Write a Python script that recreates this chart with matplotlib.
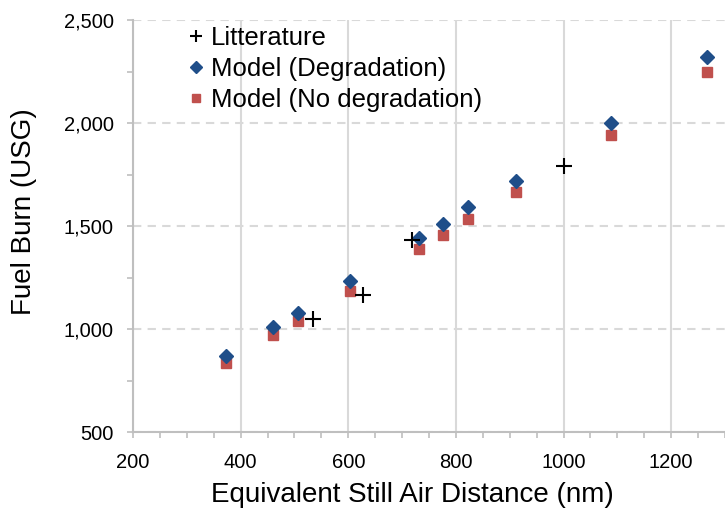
import numpy as np
import matplotlib
matplotlib.use("Agg")
import matplotlib.pyplot as plt
from matplotlib.ticker import MultipleLocator, FuncFormatter

plt.rcParams["font.family"] = ["Liberation Sans", "DejaVu Sans"]

# data
model_x = [372, 460, 506, 604, 732, 776, 822, 912, 1089, 1267]
model_deg = [870, 1010, 1080, 1233, 1440, 1508, 1594, 1718, 2001, 2322]
model_nodeg = [835, 971, 1040, 1185, 1390, 1455, 1534, 1664, 1942, 2250]
lit_x = [535, 627, 719, 1000]
lit_y = [1049, 1165, 1432, 1791]

blue = "#1F4E89"
red = "#C0504D"
grid_c = "#D9D9D9"
axis_c = "#BFBFBF"

fig = plt.figure(figsize=(7.25, 5.16), dpi=100)
ax = fig.add_axes([133 / 725, 84 / 516, 592 / 725, 412 / 516])

ax.plot(lit_x, lit_y, ls="none", marker="+", ms=11, mew=1.5,
        color="black", label="Litterature", zorder=5)
ax.plot(model_x, model_deg, ls="none", marker="D", ms=7.5,
        color=blue, mec=blue, label="Model (Degradation)", zorder=4)
ax.plot(model_x, model_nodeg, ls="none", marker="s", ms=7.5,
        color=red, mec=red, label="Model (No degradation)", zorder=3)

ax.set_xlim(200, 1300)
ax.set_ylim(500, 2500)
ax.xaxis.set_major_locator(MultipleLocator(200))
ax.xaxis.set_minor_locator(MultipleLocator(50))
ax.yaxis.set_major_locator(MultipleLocator(500))
ax.yaxis.set_minor_locator(MultipleLocator(250))
ax.yaxis.set_major_formatter(FuncFormatter(lambda v, p: f"{int(v):,}"))

ax.grid(True, axis="x", which="major", color=grid_c, lw=1.5, ls="-")
ax.grid(True, axis="y", which="major", color=grid_c, lw=1.5, ls=(0, (4, 3)))
ax.set_axisbelow(True)

for side in ["top", "right"]:
    ax.spines[side].set_visible(False)
for side in ["left", "bottom"]:
    ax.spines[side].set_color(axis_c)
    ax.spines[side].set_linewidth(1.5)

ax.tick_params(which="both", direction="out", color=axis_c, width=1.2)
ax.tick_params(which="major", length=4, labelsize=14.5)
ax.tick_params(which="minor", length=4)
ax.tick_params(axis="x", which="major", pad=11)
ax.tick_params(axis="y", which="major", pad=10)

ax.set_xlabel("Equivalent Still Air Distance (nm)", fontsize=20)
ax.set_ylabel("Fuel Burn (USG)", fontsize=20)
ax.xaxis.set_label_coords(0.472, -0.122)
ax.yaxis.set_label_coords(-0.162, 0.535)

fig.legend(loc="upper left", bbox_to_anchor=(188 / 725, 1 - 26 / 516),
           frameon=False, fontsize=18.5, handlelength=0.6,
           handletextpad=0.3, labelspacing=0.27, borderaxespad=0,
           borderpad=0, markerscale=0.85)

fig.savefig("out.png", dpi=100)
